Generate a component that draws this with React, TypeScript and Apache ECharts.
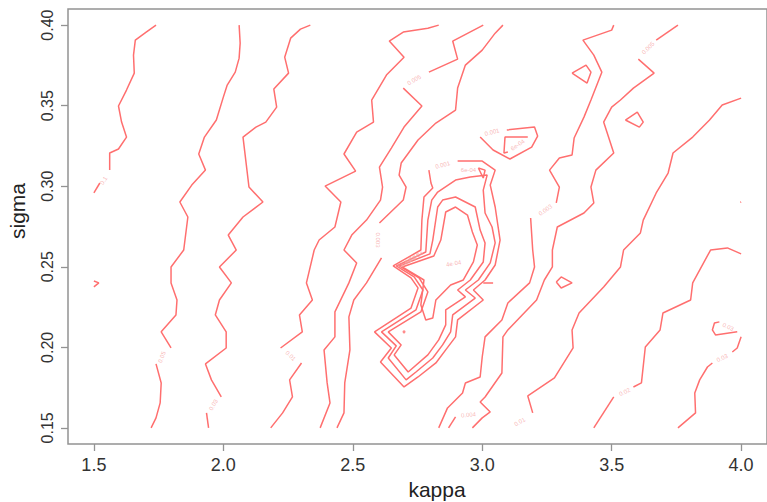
import React, { useEffect, useRef } from 'react';
import * as echarts from 'echarts';

type P = [number, number];

const xTicks = [1.5, 2.0, 2.5, 3.0, 3.5, 4.0];
const yTicks = [0.15, 0.2, 0.25, 0.3, 0.35, 0.4];

// level 0.1
const lvl0_1a: P[] = [[1.5, 0.2958], [1.523, 0.302]];
const lvl0_1b: P[] = [[1.561, 0.31], [1.561, 0.3206], [1.595, 0.3231], [1.626, 0.3305], [1.607, 0.3398], [1.595, 0.3498], [1.626, 0.3597], [1.656, 0.3702], [1.653, 0.3814], [1.66, 0.3907], [1.702, 0.3957], [1.74, 0.4]];
const lvl0_1c: P[] = [[1.5, 0.2412], [1.519, 0.24], [1.5, 0.2375]];

// level 0.05
const lvl0_05a: P[] = [[2.061, 0.4], [2.065, 0.3888], [2.061, 0.3795], [2.046, 0.3708], [2.015, 0.3628], [2.0, 0.3553], [1.973, 0.3411], [1.927, 0.3305], [1.905, 0.32], [1.931, 0.31], [1.878, 0.3007], [1.832, 0.2902], [1.863, 0.2809], [1.847, 0.2604], [1.798, 0.2499], [1.798, 0.24], [1.821, 0.2294], [1.817, 0.2201], [1.76, 0.2096], [1.798, 0.1996]];
const lvl0_05b: P[] = [[1.74, 0.1897], [1.76, 0.1779], [1.756, 0.1655], [1.74, 0.1562], [1.721, 0.15]];

// level 0.03 (left)
const lvl0_03La: P[] = [[2.336, 0.4], [2.298, 0.3975], [2.26, 0.3919], [2.237, 0.3801], [2.252, 0.3702], [2.195, 0.3603], [2.206, 0.3491], [2.164, 0.3398], [2.126, 0.3367], [2.076, 0.3305], [2.099, 0.2995], [2.153, 0.2902], [2.076, 0.2809], [2.019, 0.2697], [2.05, 0.2604], [1.985, 0.2499], [2.031, 0.24], [1.985, 0.2294], [1.969, 0.2201], [2.011, 0.2096], [2.011, 0.1996], [1.931, 0.1897], [1.954, 0.1798], [1.992, 0.1692]];
const lvl0_03Lb: P[] = [[1.935, 0.1593], [1.943, 0.15]];

// level 0.01 (left)
const lvl0_01La: P[] = [[2.832, 0.4], [2.79, 0.3981], [2.695, 0.3957], [2.641, 0.3901], [2.698, 0.3801], [2.63, 0.369], [2.573, 0.3535], [2.58, 0.3398], [2.515, 0.3336], [2.466, 0.32], [2.511, 0.3094], [2.393, 0.3001], [2.454, 0.2902], [2.431, 0.2747], [2.37, 0.2666], [2.351, 0.2604], [2.321, 0.24], [2.344, 0.2294], [2.294, 0.2201], [2.305, 0.2096], [2.221, 0.1996]];
const lvl0_01Lb: P[] = [[2.302, 0.1903], [2.256, 0.1798], [2.267, 0.1692], [2.229, 0.1593], [2.183, 0.15]];

// level 0.005 (left)
const lvl0_005La: P[] = [[3.004, 0.4], [2.886, 0.3901], [2.905, 0.3789], [2.794, 0.3708]];
const lvl0_005Lb: P[] = [[2.695, 0.3609], [2.767, 0.3498], [2.698, 0.3367], [2.649, 0.3237], [2.603, 0.3119], [2.615, 0.2995], [2.607, 0.2914], [2.553, 0.279], [2.496, 0.2697], [2.466, 0.2604], [2.515, 0.2524], [2.485, 0.24], [2.431, 0.222], [2.431, 0.2065], [2.389, 0.1984], [2.401, 0.1779], [2.412, 0.1655], [2.374, 0.15]];

// level 0.003 (left)
const lvl0_003La: P[] = [[3.08, 0.4], [3.05, 0.395], [3.0, 0.3845], [2.935, 0.3752], [2.905, 0.3609], [2.897, 0.3473], [2.821, 0.3392], [2.752, 0.3287], [2.687, 0.3144], [2.679, 0.3069], [2.706, 0.2995], [2.695, 0.2914], [2.603, 0.2772]];
const lvl0_003Lb: P[] = [[2.611, 0.2555], [2.553, 0.24], [2.504, 0.2294], [2.485, 0.2189], [2.489, 0.1984], [2.469, 0.1779], [2.466, 0.1593], [2.439, 0.15]];

// level 0.003 (right)
const lvl0_003Ra: P[] = [[3.508, 0.4], [3.5, 0.3969], [3.389, 0.3907], [3.431, 0.3814], [3.462, 0.3708], [3.42, 0.3535], [3.393, 0.3429], [3.355, 0.3299], [3.347, 0.3194], [3.298, 0.3175], [3.26, 0.31], [3.298, 0.2995], [3.286, 0.2896]];
const lvl0_003Rb: P[] = [[3.187, 0.2803], [3.195, 0.2604], [3.202, 0.2499], [3.183, 0.24], [3.099, 0.2275], [3.076, 0.217], [3.011, 0.2065], [3.0, 0.194], [2.992, 0.1816], [2.935, 0.1779], [2.924, 0.1717], [2.866, 0.1624], [2.832, 0.15]];

// level 0.004
const lvl0_004: P[] = [[2.87, 0.15], [2.897, 0.1568]];

// level 0.005 (right)
const lvl0_005Ra: P[] = [[3.756, 0.4], [3.672, 0.3907]];
const lvl0_005Rb: P[] = [[3.603, 0.3789], [3.664, 0.3702], [3.584, 0.3609], [3.534, 0.3535], [3.5, 0.3491], [3.469, 0.3398], [3.508, 0.3206], [3.439, 0.31], [3.42, 0.2995], [3.431, 0.2896], [3.393, 0.2834], [3.29, 0.2747], [3.271, 0.2604], [3.271, 0.2499], [3.24, 0.2418], [3.21, 0.2294], [3.099, 0.2108], [3.08, 0.2065], [3.076, 0.1841], [3.011, 0.1692], [2.992, 0.1661], [3.031, 0.1599], [3.0, 0.1562], [2.962, 0.15]];

// level 0.01 (right)
const lvl0_01R: P[] = [[4.0, 0.3547], [3.927, 0.3504], [3.878, 0.3411], [3.813, 0.3305], [3.737, 0.3206], [3.718, 0.3082], [3.672, 0.2958], [3.622, 0.279], [3.611, 0.271], [3.546, 0.2604], [3.534, 0.2499], [3.469, 0.2375], [3.374, 0.2213], [3.347, 0.2108], [3.351, 0.1996], [3.279, 0.181], [3.176, 0.1698], [3.195, 0.1593]];

// level 0.02
const lvl0_02a: P[] = [[4.0, 0.258], [3.947, 0.2617], [3.882, 0.2604], [3.813, 0.24], [3.805, 0.2294], [3.698, 0.2213], [3.687, 0.2108], [3.63, 0.2002], [3.615, 0.1779], [3.584, 0.1754]];
const lvl0_02b: P[] = [[3.508, 0.1692], [3.431, 0.15]];

// level 0.03 (right)
const lvl0_03Ra: P[] = [[4.0, 0.2065], [3.985, 0.1996], [3.966, 0.1971]];
const lvl0_03Rb: P[] = [[3.889, 0.1903], [3.87, 0.1878], [3.84, 0.1798], [3.821, 0.1717], [3.824, 0.1593], [3.756, 0.15]];
const lvl0_03Loop: P[] = [[3.916, 0.2158], [3.897, 0.2151], [3.889, 0.2108], [3.901, 0.2077], [3.985, 0.2096]];

// small islands
const island1: P[] = [[3.347, 0.3702], [3.401, 0.3752], [3.42, 0.3708], [3.405, 0.364], [3.347, 0.3702]];
const island2: P[] = [[3.553, 0.3411], [3.599, 0.346], [3.622, 0.3398], [3.607, 0.3367], [3.553, 0.3411]];
const island3: P[] = [[3.286, 0.2406], [3.305, 0.2437], [3.347, 0.24], [3.305, 0.2368], [3.286, 0.2406]];
const islandEdge: P[] = [[4.0, 0.2903], [3.997, 0.29]];
const dash: P[] = [[3.004, 0.24], [3.042, 0.24]];

// level 0.001 / 6e-04 (upper right pocket)
const lvl0_001Top: P[] = [[3.095, 0.3349], [3.202, 0.3367], [3.214, 0.3311], [3.191, 0.3243], [3.107, 0.3169], [3.042, 0.3225], [2.992, 0.3305]];
const lvl6e4Top: P[] = [[3.176, 0.3305], [3.088, 0.3305], [3.084, 0.3206], [3.099, 0.3212]];
const lvl6e4Tri: P[] = [[2.985, 0.3113], [3.011, 0.31], [3.004, 0.3051], [2.985, 0.3113]];

// central valley
const valleyA: P[] = [[2.905, 0.3156], [3.0, 0.3156], [3.05, 0.31], [3.031, 0.3007], [3.05, 0.2871], [3.069, 0.2666], [3.05, 0.2511], [3.011, 0.2418], [2.966, 0.2356], [3.004, 0.2294], [2.905, 0.217], [2.897, 0.2065], [2.859, 0.1984], [2.821, 0.1903], [2.752, 0.1816], [2.698, 0.1754], [2.607, 0.1909], [2.649, 0.1996], [2.584, 0.2096], [2.725, 0.2244], [2.752, 0.2369], [2.725, 0.2431], [2.656, 0.2505], [2.763, 0.2604], [2.767, 0.279], [2.775, 0.2933], [2.809, 0.2989], [2.802, 0.302], [2.794, 0.31]];
const valleyB: P[] = [[2.668, 0.2505], [2.737, 0.2437], [2.771, 0.2356], [2.744, 0.2232], [2.611, 0.2096], [2.668, 0.2009], [2.637, 0.1934], [2.706, 0.1798], [2.744, 0.1847], [2.809, 0.1934], [2.847, 0.2015], [2.878, 0.2096], [2.886, 0.2201], [2.973, 0.2306], [2.935, 0.2356], [2.985, 0.2418], [3.031, 0.2524], [3.05, 0.2648], [3.038, 0.2747], [3.011, 0.2834], [3.004, 0.2976], [3.019, 0.3069], [2.954, 0.3057], [2.897, 0.3038], [2.828, 0.2964], [2.805, 0.2914], [2.79, 0.279], [2.782, 0.2592], [2.668, 0.2505]];
const valleyC: P[] = [[2.679, 0.2505], [2.756, 0.2431], [2.79, 0.2344], [2.763, 0.222], [2.637, 0.2096], [2.687, 0.2015], [2.66, 0.1953], [2.714, 0.1847], [2.79, 0.1953], [2.832, 0.2046], [2.859, 0.2139], [2.859, 0.2232], [2.935, 0.2313], [2.905, 0.2356], [2.954, 0.2418], [3.004, 0.253], [3.011, 0.2648], [2.992, 0.2728], [2.973, 0.2871], [2.897, 0.2933], [2.847, 0.2914], [2.828, 0.2871], [2.809, 0.2666], [2.798, 0.258], [2.679, 0.2505]];
const valleyD: P[] = [[2.691, 0.2499], [2.775, 0.2418], [2.763, 0.2263], [2.782, 0.217], [2.809, 0.2182], [2.821, 0.2294], [2.878, 0.2387], [2.927, 0.2418], [2.966, 0.253], [2.981, 0.2635], [2.962, 0.2716], [2.943, 0.2821], [2.897, 0.2871], [2.859, 0.284], [2.84, 0.2666], [2.813, 0.2567], [2.691, 0.2499]];
const valleyDot: P[] = [[2.698, 0.2096]];

const contourLines: P[][] = [
  lvl0_1a, lvl0_1b, lvl0_1c, lvl0_05a, lvl0_05b, lvl0_03La, lvl0_03Lb,
  lvl0_01La, lvl0_01Lb, lvl0_005La, lvl0_005Lb, lvl0_003La, lvl0_003Lb,
  lvl0_003Ra, lvl0_003Rb, lvl0_004, lvl0_005Ra, lvl0_005Rb, lvl0_01R,
  lvl0_02a, lvl0_02b, lvl0_03Ra, lvl0_03Rb, lvl0_03Loop,
  island1, island2, island3, islandEdge, dash,
  lvl0_001Top, lvl6e4Top, lvl6e4Tri, valleyA, valleyB, valleyC, valleyD,
];

// contour labels: text, kappa, sigma, angle
const labelText = ['0.1', '0.05', '0.03', '0.01', '0.005', '0.003', '0.003', '0.005', '0.004', '0.01', '0.02', '0.03', '0.03', '0.001', '6e-04', '0.001', '6e-04', '8e-04', '6e-04', '4e-04', '2e-04', '4e-04'];
const labelKappa = [1.538, 1.763, 1.962, 2.26, 2.737, 2.599, 3.244, 3.641, 2.947, 3.145, 3.55, 3.927, 3.95, 3.038, 3.137, 2.847, 2.947, 2.7, 2.715, 2.73, 2.745, 2.89];
const labelSigma = [0.3035, 0.194, 0.1643, 0.1947, 0.3659, 0.2666, 0.2852, 0.3857, 0.1581, 0.1537, 0.1723, 0.1934, 0.2127, 0.3336, 0.3256, 0.3132, 0.3103, 0.252, 0.2535, 0.255, 0.2565, 0.252];
const labelAngle = [55, 70, 60, -45, 30, -90, 35, 45, 5, 30, 25, 25, -25, 15, 35, 15, 0, 30, 30, 30, 30, 10];

const LINE = '#ff6f6f';
const LABEL = '#f6a4a4';
const FONT = '"Liberation Sans", Arial, Helvetica, sans-serif';

export default function App() {
  const ref = useRef<HTMLDivElement>(null);
  useEffect(() => {
    if (!ref.current) return;
    const chart = echarts.init(ref.current, undefined, { renderer: 'svg' });
    const lineSeries = contourLines.map((d) => ({
      type: 'line',
      data: d,
      showSymbol: false,
      symbol: 'none',
      silent: true,
      lineStyle: { color: LINE, width: 1.5 },
      z: 3,
    }));
    chart.setOption({
      animation: false,
      backgroundColor: '#ffffff',
      grid: {
        left: 68, top: 9, width: 707, height: 435,
        show: true, borderColor: '#939393', borderWidth: 1.5,
      },
      xAxis: {
        type: 'value', min: 1.4, max: 4.1,
        axisLine: { show: false },
        splitLine: { show: false },
        axisTick: { show: true, length: 7, customValues: xTicks, lineStyle: { color: '#939393', width: 1.3 } },
        axisLabel: {
          customValues: xTicks, margin: 12, fontSize: 18, color: '#333', fontFamily: FONT,
          formatter: (v: number) => v.toFixed(1),
        },
      },
      yAxis: {
        type: 'value', min: 0.14, max: 0.41,
        axisLine: { show: false },
        splitLine: { show: false },
        axisTick: { show: true, length: 7, customValues: yTicks, lineStyle: { color: '#939393', width: 1.3 } },
        axisLabel: {
          customValues: yTicks, margin: 13, fontSize: 16, color: '#333', fontFamily: FONT, rotate: 90,
          formatter: (v: number) => v.toFixed(2),
        },
      },
      graphic: [
        { type: 'text', x: 437, y: 489, style: { text: 'kappa', font: `21px ${FONT}`, fill: '#222', align: 'center', verticalAlign: 'middle' } },
        { type: 'text', x: 17, y: 211, rotation: Math.PI / 2, style: { text: 'sigma', font: `21px ${FONT}`, fill: '#222', align: 'center', verticalAlign: 'middle' } },
      ],
      series: [
        ...lineSeries,
        {
          type: 'scatter',
          data: valleyDot,
          symbolSize: 3,
          itemStyle: { color: LINE },
          silent: true,
          z: 4,
        },
        {
          type: 'scatter',
          symbolSize: 0,
          silent: true,
          z: 5,
          data: labelText.map((t, i) => ({
            value: [labelKappa[i], labelSigma[i]],
            label: { show: true, formatter: t, rotate: labelAngle[i] },
          })),
          label: { show: true, position: 'inside', color: LABEL, fontSize: 6, fontFamily: FONT },
        },
      ],
    });
    return () => chart.dispose();
  }, []);
  return <div ref={ref} style={{ position: 'fixed', left: 0, top: 0, width: 767, height: 502 }} />;
}
